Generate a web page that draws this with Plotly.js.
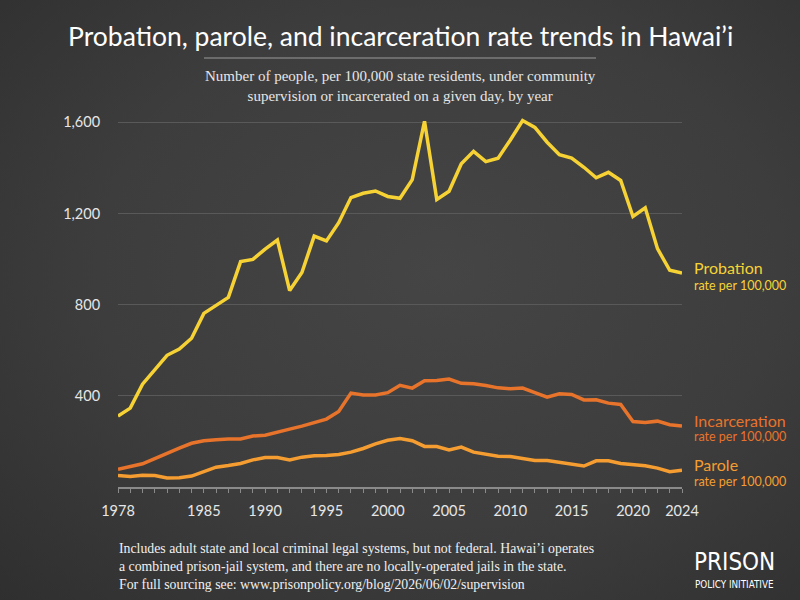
<!DOCTYPE html>
<html>
<head>
<meta charset="utf-8">
<script src="https://cdn.plot.ly/plotly-3.0.1.min.js"></script>
<style>
html,body{margin:0;padding:0;width:800px;height:600px;overflow:hidden;
background:radial-gradient(ellipse at 55% 45%, #454545 0%, #3d3d3d 55%, #2f2f2f 100%);}
#chart{width:800px;height:600px;}
</style>
</head>
<body>
<div id="chart"></div>
<script>
const years = [1978,1979,1980,1981,1982,1983,1984,1985,1986,1987,1988,1989,1990,1991,1992,1993,1994,1995,1996,1997,1998,1999,2000,2001,2002,2003,2004,2005,2006,2007,2008,2009,2010,2011,2012,2013,2014,2015,2016,2017,2018,2019,2020,2021,2022,2023,2024];
const probation = [311,346,451,513,578,605,653,762,797,832,989,999,1044,1084,862,941,1101,1080,1160,1270,1289,1299,1275,1267,1349,1605,1262,1298,1418,1473,1428,1443,1523,1608,1578,1513,1458,1443,1403,1357,1381,1345,1187,1225,1046,951,939];
const incarceration = [78,90,102,125,149,171,192,203,207,211,211,224,227,239,254,267,281,298,331,412,404,404,414,446,434,466,467,474,455,453,445,435,431,434,414,394,409,406,382,383,368,362,287,283,289,273,268];
const parole = [50,46,52,50,40,41,48,67,87,94,103,119,129,129,119,131,137,138,143,153,169,189,205,213,203,178,178,163,175,153,143,135,134,124,116,116,107,100,92,115,115,103,97,93,83,67,74];
const xTickLabels = {1978:"1978",1985:"1985",1990:"1990",1995:"1995",2000:"2000",2005:"2005",2010:"2010",2015:"2015",2020:"2020",2024:"2024"};
const yTickVals = [400,800,1200,1600];
const yTickText = ["400","800","1,200","1,600"];

const cProb = "#f6d235", cInc = "#e8732b", cPar = "#f59d30";
const sans = "Lato, 'Open Sans', sans-serif";
const serif = "'Liberation Serif', 'DejaVu Serif', serif";

const traces = [
  {x: years, y: parole, type: "scatter", mode: "lines", line: {color: cPar, width: 3.5}, hoverinfo: "skip"},
  {x: years, y: incarceration, type: "scatter", mode: "lines", line: {color: cInc, width: 3.5}, hoverinfo: "skip"},
  {x: years, y: probation, type: "scatter", mode: "lines", line: {color: cProb, width: 3.5}, hoverinfo: "skip"}
];

const n = years.length - 1;
function endLabel(name, val, color, shiftA, shiftB) {
  return [
    {xref: "paper", yref: "y", x: 1.0177, y: val, yshift: shiftA, xanchor: "left", yanchor: "middle", showarrow: false,
     text: name, font: {family: sans, size: 16, color: color}},
    {xref: "paper", yref: "y", x: 1.0177, y: val, yshift: shiftB, xanchor: "left", yanchor: "middle", showarrow: false,
     text: "rate per 100,000", font: {family: sans, size: 12.5, color: color}}
  ];
}

const annotations = [
  {xref: "paper", yref: "paper", x: 0.5, y: 0, xanchor: "center", yanchor: "middle", showarrow: false,
   text: "Probation, parole, and incarceration rate trends in Hawai’i",
   font: {family: sans, size: 26.5, color: "#ffffff"}, _pix: 36},
  {xref: "paper", yref: "paper", x: 0.5, y: 0, xanchor: "center", yanchor: "middle", showarrow: false,
   text: "Number of people, per 100,000 state residents, under community<br>supervision or incarcerated on a given day, by year",
   font: {family: serif, size: 15, color: "#e6e6e6"}, _pix: 86},
  {xref: "paper", yref: "paper", x: 0, y: 0, xanchor: "left", yanchor: "middle", align: "left", showarrow: false,
   text: "Includes adult state and local criminal legal systems, but not federal. Hawai’i operates<br>a combined prison-jail system, and there are no locally-operated jails in the state.<br>For full sourcing see: www.prisonpolicy.org/blog/2026/06/02/supervision",
   font: {family: serif, size: 13.8, color: "#f0f0f0"}, _pix: 566, _px: 117},
  {xref: "paper", yref: "paper", x: 0, y: 0, xanchor: "left", yanchor: "middle", showarrow: false,
   text: "PRISON", font: {family: "'DejaVu Sans Condensed', 'DejaVu Sans', sans-serif", size: 24, color: "#ffffff"}, _pix: 562, _px: 692},
  {xref: "paper", yref: "paper", x: 0, y: 0, xanchor: "left", yanchor: "middle", showarrow: false,
   text: "POLICY INITIATIVE", font: {family: "'DejaVu Sans Condensed', 'DejaVu Sans', sans-serif", size: 9.8, color: "#ffffff"}, _pix: 584, _px: 693}
].concat(endLabel("Probation", probation[n], cProb, 6, -12))
 .concat(endLabel("Incarceration", incarceration[n], cInc, 5, -11))
 .concat(endLabel("Parole", parole[n], cPar, 6, -11));

const M = {l: 118, r: 118, t: 111, b: 113};
const PW = 800 - M.l - M.r, PH = 600 - M.t - M.b;
annotations.forEach(a => {
  if (a._pix !== undefined) { a.y = (600 - M.b - a._pix) / PH; delete a._pix; }
  if (a._px !== undefined) { a.x = (a._px - M.l) / PW; delete a._px; }
});

const layout = {
  width: 800, height: 600,
  paper_bgcolor: "rgba(0,0,0,0)", plot_bgcolor: "rgba(0,0,0,0)",
  margin: M, showlegend: false,
  xaxis: {
    range: [1978, 2024], showgrid: false, zeroline: false,
    showline: true, linecolor: "#8a8a8a", linewidth: 1.5,
    tickmode: "array", tickvals: years, ticktext: years.map(y => xTickLabels[y] || ""),
    ticks: "outside", ticklen: 4, tickcolor: "#8a8a8a", tickwidth: 1,
    ticklabelstandoff: 6,
    tickfont: {family: sans, size: 14.5, color: "#e6e6e6"}, fixedrange: true
  },
  yaxis: {
    range: [0, 1650], showgrid: true, gridcolor: "#595959", gridwidth: 1,
    zeroline: false, showline: false,
    tickmode: "array", tickvals: yTickVals, ticktext: yTickText,
    ticks: "outside", ticklen: 14, tickcolor: "rgba(0,0,0,0)",
    tickfont: {family: sans, size: 14.5, color: "#e6e6e6"}, fixedrange: true
  },
  shapes: [
    {type: "line", xref: "paper", yref: "paper",
     x0: (204 - M.l) / PW, x1: (596 - M.l) / PW,
     y0: (600 - M.b - 58) / PH, y1: (600 - M.b - 58) / PH,
     line: {color: "#9a9a9a", width: 1}}
  ],
  annotations: annotations
};

Plotly.newPlot("chart", traces, layout, {staticPlot: true, displayModeBar: false});
</script>
</body>
</html>
